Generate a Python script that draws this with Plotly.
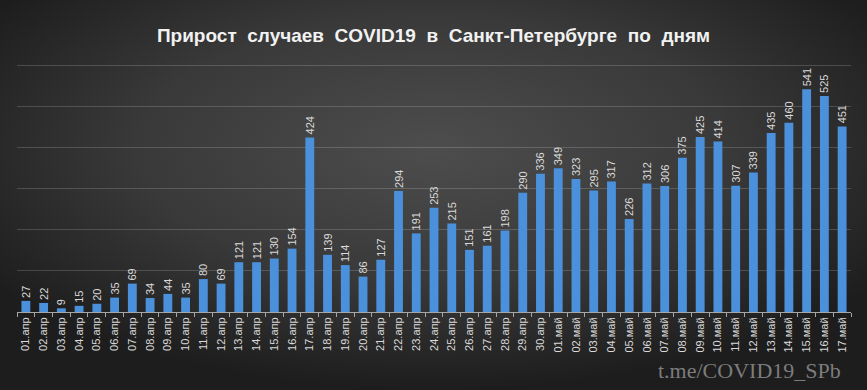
import base64
import plotly.graph_objects as go

apr_days = [f"{d:02d}.апр" for d in range(1, 31)]
may_days = [f"{d:02d}.май" for d in range(1, 18)]
categories = apr_days + may_days

cases = [27, 22, 9, 15, 20, 35, 69, 34, 44, 35,
         80, 69, 121, 121, 130, 154, 424, 139, 114, 86,
         127, 294, 191, 253, 215, 151, 161, 198, 290, 336,
         349, 323, 295, 317, 226, 312, 306, 375, 425, 414,
         307, 339, 435, 460, 541, 525, 451]

title_text = "\u00a0\u00a0".join(["Прирост", "случаев", "COVID19", "в", "Санкт-Петербурге", "по", "дням"])
watermark = "t.me/COVID19_SPb"

W, H = 867, 390
ML, MR, MT, MB = 17, 16, 63, 78
pw, ph = W - ML - MR, H - MT - MB

svg = f'''<svg xmlns="http://www.w3.org/2000/svg" width="{W}" height="{H}" viewBox="0 0 {W} {H}">
<defs><radialGradient id="g" cx="0.5" cy="0.38" r="0.62">
<stop offset="0" stop-color="#4d4d4d"/>
<stop offset="0.55" stop-color="#393939"/>
<stop offset="1" stop-color="#1d1d1d"/>
</radialGradient></defs>
<rect width="{W}" height="{H}" fill="url(#g)"/></svg>'''
bg_uri = "data:image/svg+xml;base64," + base64.b64encode(svg.encode()).decode()

fig = go.Figure()
fig.add_trace(go.Bar(
    x=categories, y=cases,
    marker=dict(color="#4a90da", line=dict(width=0)),
    text=[str(v) for v in cases],
    textposition="outside",
    textangle=-90,
    constraintext="none",
    textfont=dict(family="Liberation Sans", size=11, color="#d9d9d9"),
    cliponaxis=False,
    hoverinfo="x+y",
))

fig.update_layout(
    width=W, height=H,
    margin=dict(l=ML, r=MR, t=MT, b=MB),
    paper_bgcolor="#2e2e2e",
    plot_bgcolor="rgba(0,0,0,0)",
    bargap=0.5,
    showlegend=False,
    title=dict(text=title_text, x=0.5, xanchor="center", y=1 - 35 / H, yanchor="middle",
               font=dict(family="Liberation Sans", size=19, color="#f2f2f2", weight="bold")),
    xaxis=dict(type="category", tickangle=-90, tickson="boundaries", ticks="outside",
               ticklen=4, tickcolor="#a6a6a6", showline=True, linecolor="#a6a6a6",
               linewidth=1, showgrid=False, automargin=False,
               tickfont=dict(family="Liberation Sans", size=11, color="#d9d9d9")),
    yaxis=dict(range=[0, 605], tick0=0, dtick=100, showticklabels=False, showgrid=True,
               gridcolor="rgba(255,255,255,0.17)", gridwidth=1, zeroline=False,
               showline=False, ticks="", automargin=False),
    images=[dict(source=bg_uri, xref="paper", yref="paper",
                 x=-ML / pw, y=1 + MT / ph, sizex=W / pw, sizey=H / ph,
                 xanchor="left", yanchor="top", sizing="stretch", layer="below")],
    annotations=[dict(text=watermark, xref="paper", yref="paper",
                      x=(843 - ML) / pw, y=-(385 - MT - ph) / ph,
                      xanchor="right", yanchor="bottom", showarrow=False,
                      font=dict(family="Liberation Serif", size=22, color="#7c7c7c"))],
)

fig.write_html("out.html", config={"displayModeBar": False},
               post_script="document.body.style.margin='0';document.body.style.overflow='hidden';")
